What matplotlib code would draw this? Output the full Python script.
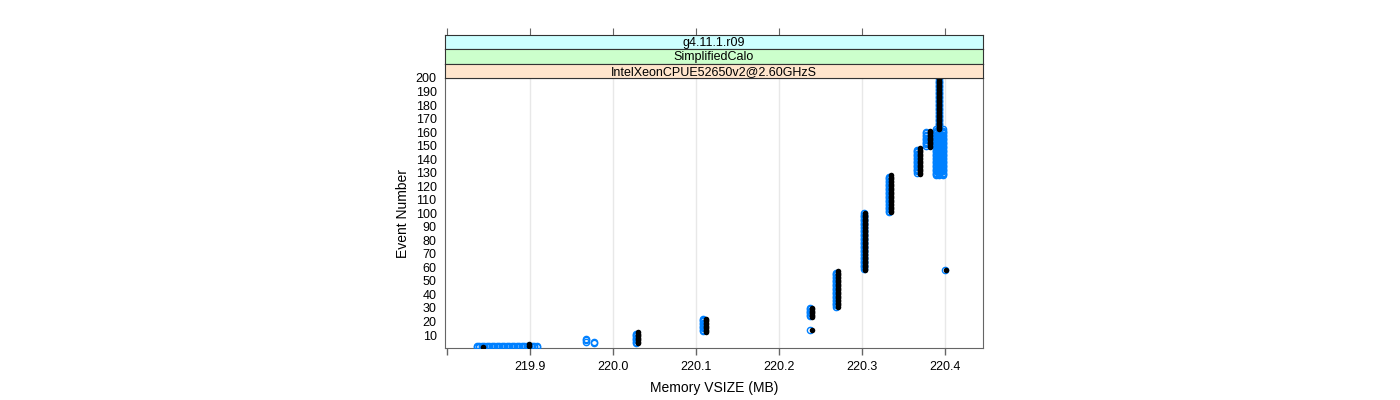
import numpy as np
import matplotlib
matplotlib.use("Agg")
import matplotlib.pyplot as plt

plt.rcParams['font.family'] = ['Liberation Sans', 'DejaVu Sans']

# runs of consecutive events sharing one VSIZE value: (vsize, first event, last event)
black_vsize = [219.844, 219.899, 220.030, 220.112, 220.240, 220.240, 220.271, 220.304, 220.335, 220.370, 220.382, 220.393, 220.401]
black_first = [1, 2, 4, 12, 14, 23, 31, 58, 101, 129, 149, 162, 58]
black_last = [1, 3, 12, 22, 14, 30, 57, 100, 128, 148, 161, 200, 58]

blue_vsize = [219.836, 219.839, 219.842, 219.845, 219.848, 219.851, 219.854, 219.857, 219.860,
              219.863, 219.866, 219.869, 219.872, 219.875, 219.878, 219.881, 219.884, 219.887,
              219.890, 219.893, 219.896, 219.899, 219.902, 219.905, 219.908,
              219.968, 219.977, 220.028, 220.109, 220.238, 220.238, 220.269, 220.302, 220.333,
              220.366, 220.377, 220.389, 220.393, 220.398, 220.393, 220.400]
blue_first = [1] * 25 + [5, 4, 4, 13, 14, 24, 31, 59, 101,
                         130, 150, 128, 128, 128, 163, 58]
blue_last = [2] * 25 + [7, 5, 11, 22, 14, 30, 56, 100, 127,
                        147, 160, 162, 162, 162, 199, 58]

strip_labels = ["g4.11.1.r09", "SimplifiedCalo", "IntelXeonCPUE52650v2@2.60GHzS"]
strip_colors = ["#ccffff", "#ccffcc", "#ffe5cc"]

xticks = [219.8, 219.9, 220.0, 220.1, 220.2, 220.3, 220.4]
xticklabels = ["", "219.9", "220.0", "220.1", "220.2", "220.3", "220.4"]
yticks = list(range(10, 201, 10))


def expand(vs, firsts, lasts):
    xs, ys = [], []
    for v, a, b in zip(vs, firsts, lasts):
        ev = np.arange(a, b + 1)
        xs.extend([v] * len(ev))
        ys.extend(ev)
    return np.array(xs), np.array(ys)


fig = plt.figure(figsize=(14, 4), dpi=100)
W, H = 1400, 400
L, R = 445, 983
ax = fig.add_axes([L / W, 1 - 348 / H, (R - L) / W, (348 - 78) / H])
xlim = (219.7976, 220.446)

bx, by = expand(blue_vsize, blue_first, blue_last)
kx, ky = expand(black_vsize, black_first, black_last)
ax.plot(bx, by, 'o', mfc='none', mec='#0080ff', ms=4.5, mew=1.0, zorder=3)
ax.plot(kx, ky, 'o', color='black', ms=4.0, mew=0, zorder=4)

ax.set_xlim(*xlim)
ax.set_ylim(0.4, 200)
ax.set_xticks(xticks)
ax.set_xticklabels(xticklabels, fontsize=9)
ax.set_yticks(yticks)
ax.set_yticklabels([str(t) for t in yticks], fontsize=9)
ax.tick_params(axis='y', length=0, pad=6)
ax.tick_params(axis='x', length=5, width=1, color='#666666', pad=4)
for x in xticks[1:]:
    ax.axvline(x, color='#e8e8e8', lw=1, zorder=1)
for s in ax.spines.values():
    s.set_color('#666666')
ax.set_xlabel("Memory VSIZE (MB)", fontsize=10, labelpad=6)
ax.set_ylabel("Event Number", fontsize=10, labelpad=4)

# strips, bottom to top
tops = [35, 49, 64, 78]
for i, (lab, col) in enumerate(zip(strip_labels, strip_colors)):
    y0, y1 = tops[i], tops[i + 1]
    sax = fig.add_axes([L / W, 1 - y1 / H, (R - L) / W, (y1 - y0) / H])
    sax.set_facecolor(col)
    sax.set_xlim(*xlim)
    sax.set_yticks([])
    for s in sax.spines.values():
        s.set_color('#333333')
    sax.text(0.5, 0.45, lab, ha='center', va='center', fontsize=9, transform=sax.transAxes)
    if i == 0:
        sax.xaxis.tick_top()
        sax.set_xticks(xticks)
        sax.set_xticklabels([])
        sax.tick_params(axis='x', length=5, color='#666666')
    else:
        sax.set_xticks([])

fig.savefig("out.png", dpi=100)
